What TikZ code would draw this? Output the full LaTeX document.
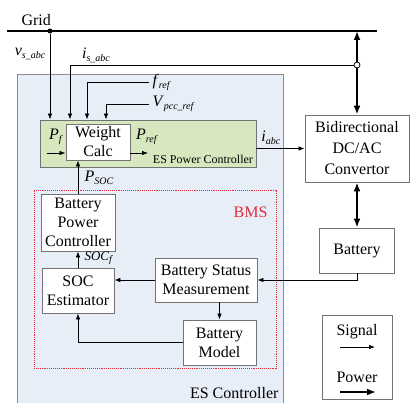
\documentclass[tikz,border=0pt]{standalone}
\usepackage{fontspec}
\setmainfont{Liberation Serif}
\renewcommand{\familydefault}{\rmdefault}
\usepackage{xcolor}
\usepackage{tikz}
\usetikzlibrary{arrows.meta}
\definecolor{ctrlblue}{RGB}{232,238,247}
\definecolor{espcgreen}{RGB}{215,231,190}
\definecolor{bmsred}{RGB}{225,45,60}
\newcommand{\sublbl}[2]{\textit{#1}\raisebox{-0.4ex}{\fontsize{10}{10}\selectfont\textit{#2}}}

\begin{document}
\begin{tikzpicture}[x=1pt, y=-1pt, every node/.style={font=\rmfamily\fontsize{16}{19}\selectfont}]
  \tikzstyle{blk}=[rectangle,draw=black!55,fill=white,line width=0.9pt,inner sep=0pt,align=center]
  \tikzstyle{sig}=[-{Latex[length=6pt,width=4.5pt]},line width=0.7pt]
  \tikzstyle{pwr}=[{Latex[length=9pt,width=7pt]}-{Latex[length=9pt,width=7pt]},line width=2pt]
  \useasboundingbox (0,0) rectangle (410,403);
  % containers
  \node[rectangle,draw=black!45,fill=ctrlblue,line width=0.9pt,minimum width=266,minimum height=334] (ctrl) at (150,241) {};
  \node[rectangle,draw=bmsred,densely dotted,line width=0.9pt,minimum width=242,minimum height=178] (bms) at (155,279) {};
  \node[blk,fill=espcgreen,minimum width=216,minimum height=47] (espc) at (148,143.5) {};
  % blocks
  \node[blk,minimum width=64,minimum height=36] (wcalc) at (98,142) {Weight\\Calc};
  \node[blk,minimum width=104,minimum height=67,font=\rmfamily\fontsize{16}{21}\selectfont] (conv) at (357,148.5) {Bidirectional\\DC/AC\\Convertor};
  \node[blk,minimum width=75,minimum height=45] (batt) at (357,250.5) {Battery};
  \node[blk,minimum width=74,minimum height=57] (bpc) at (78,222.5) {Battery\\Power\\Controller};
  \node[blk,minimum width=72,minimum height=45] (soce) at (78,290.5) {SOC\\Estimator};
  \node[blk,minimum width=102,minimum height=44] (bsm) at (206,280) {Battery Status\\Measurement};
  \node[blk,minimum width=73,minimum height=45] (bmod) at (219.5,342.5) {Battery\\Model};
  \node[blk,minimum width=70,minimum height=84] (lgd) at (357,357) {};
  % grid
  \coordinate (gridL) at (7,31);
  \coordinate (gridR) at (377,31);
  \coordinate (gtap) at (357,31);
  \draw[line width=2.2pt] (gridL) -- (gridR);
  \node[anchor=base west] (gridlbl) at (18,26) {Grid};
  \node[circle,fill,inner sep=0pt,minimum size=5] (vtap) at (50,31) {};
  \draw[sig] (vtap) -- (vtap |- espc.north);
  \draw[pwr] (gtap) -- (conv.north);
  \node[circle,draw,fill=white,inner sep=0pt,minimum size=6,line width=0.8pt] (itap) at (357,65) {};
  \coordinate (iturn) at (70,65);
  \draw[sig] (itap) -- (iturn) -- (iturn |- espc.north);
  \node (vlbl) at (30,54) {\sublbl{v}{s\_abc}};
  \node (ilbl) at (96,55) {\sublbl{i}{s\_abc}};
  % references
  \coordinate (fref) at (149,82);
  \coordinate (fturn) at (87,82);
  \draw[sig] (fref) -- (fturn) -- (fturn |- espc.north);
  \node[anchor=west] (flbl) at (fref) {\sublbl{f}{ref}};
  \coordinate (vref) at (149,104);
  \coordinate (vturn) at (106,104);
  \draw[sig] (vref) -- (vturn) -- (vturn |- espc.north);
  \node[anchor=west] (Vlbl) at (vref) {\sublbl{V}{pcc\_ref}};
  % es power controller
  \coordinate (pfin) at (47,153);
  \coordinate (pout) at (148,153);
  \draw[sig] (pfin) -- (pfin -| wcalc.west);
  \draw[sig] (wcalc.east |- pout) -- (pout);
  \node (pflbl) at (56,137) {\sublbl{P}{f}};
  \node (prlbl) at (147,137) {\sublbl{P}{ref}};
  \node[anchor=south east,font=\rmfamily\fontsize{12}{14}\selectfont] (espclbl) at (espc.south east) {ES Power Controller};
  \draw[sig] (espc.east |- conv.west) -- (conv.west) node[pos=0.3,above] (ilbl2) {\sublbl{i}{abc}};
  \draw[pwr] (conv.south) -- (batt.north);
  % bms
  \draw[sig] (bpc.north) -- (bpc.north |- wcalc.south);
  \node[anchor=west] (psoclbl) at (81,178) {\sublbl{P}{SOC}};
  \draw[sig] (soce.north) -- (bpc.south);
  \node[anchor=west,font=\rmfamily\fontsize{13}{15}\selectfont] (soclbl) at (81,258) {\sublbl{SOC}{f}};
  \node[anchor=east,text=bmsred] (bmslbl) at (271,212) {BMS};
  \draw[sig] (batt.south) |- (bsm.east);
  \draw[sig] (bsm.west) -- (bsm.west -| soce.east);
  \draw[sig] (bsm.south -| bmod.north) -- (bmod.north);
  \draw[sig] (bmod.west) -| (soce.south);
  \node[anchor=base east] (ctrllbl) at (282,399) {ES Controller};
  % legend
  \node (siglbl) at (357,332) {Signal};
  \coordinate (sigA) at (340,347);
  \coordinate (sigB) at (375,347);
  \draw[sig] (sigA) -- (sigB);
  \node (pwrlbl) at (357,377) {Power};
  \coordinate (pwrA) at (340,392);
  \coordinate (pwrB) at (376,392);
  \draw[-{Latex[length=9pt,width=7pt]},line width=2pt] (pwrA) -- (pwrB);
\end{tikzpicture}
\end{document}
